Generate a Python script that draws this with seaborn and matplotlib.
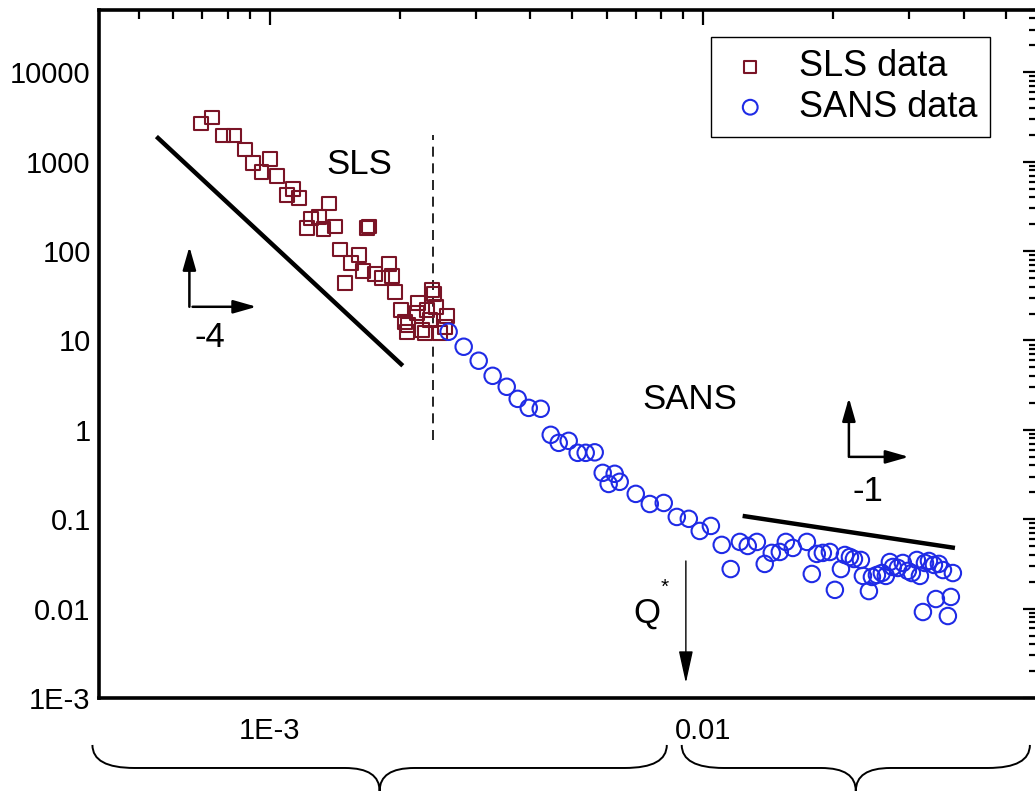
import numpy as np
import pandas as pd
import matplotlib
matplotlib.use("Agg")
import matplotlib.pyplot as plt
import matplotlib.ticker as mticker
from matplotlib.path import Path
from matplotlib.patches import PathPatch
from matplotlib.transforms import blended_transform_factory
import seaborn as sns

# SLS data (Q, intensity)
sls_q = [6.93e-4, 7.38e-4, 7.79e-4, 8.26e-4, 8.76e-4, 9.14e-4, 9.58e-4, 1.00e-3,
         1.04e-3, 1.095e-3, 1.13e-3, 1.167e-3, 1.218e-3, 1.244e-3, 1.298e-3,
         1.332e-3, 1.369e-3, 1.413e-3, 1.451e-3, 1.675e-3, 1.70e-3, 1.606e-3,
         1.539e-3, 1.49e-3, 1.64e-3, 1.748e-3, 1.814e-3, 1.883e-3, 1.913e-3,
         1.944e-3, 2.007e-3, 2.05e-3, 2.083e-3, 2.197e-3, 2.185e-3, 2.28e-3,
         2.305e-3, 2.367e-3, 2.392e-3, 2.417e-3, 2.469e-3, 2.563e-3, 2.536e-3,
         2.342e-3, 2.072e-3, 2.244e-3]
sls_i = [2670, 3120, 1960, 1960, 1370, 977, 775, 1060,
         699, 428, 500, 396, 183, 231, 243,
         178, 340, 188, 104, 183, 188, 91,
         74, 44.3, 60.3, 55.8, 50.4, 72.3, 53,
         35.1, 22.1, 16.2, 15.0, 26.4, 20.4, 12.2,
         22.1, 37.0, 33.3, 23.8, 12.2, 18.9, 14.2,
         17.1, 12.5, 13.2]

# SANS data (Q, intensity)
sans_q = [2.59e-3, 2.806e-3, 3.039e-3, 3.273e-3, 3.527e-3, 3.739e-3, 3.965e-3,
          4.226e-3, 4.457e-3, 4.65e-3, 4.903e-3, 5.143e-3, 5.367e-3, 5.63e-3,
          5.875e-3, 6.261e-3, 6.064e-3, 6.43e-3, 7.003e-3, 7.545e-3, 8.126e-3,
          8.71e-3, 9.284e-3, 9.84e-3, 0.01044, 0.01106, 0.0116, 0.01218,
          0.0127, 0.01333, 0.0139, 0.01443, 0.01506, 0.01555, 0.01614,
          0.01739, 0.01785, 0.01833, 0.01893, 0.01965, 0.02018, 0.02084,
          0.02128, 0.02186, 0.02233, 0.02317, 0.02342, 0.02418, 0.02457,
          0.02523, 0.0259, 0.02646, 0.02703, 0.02746, 0.0282, 0.02896,
          0.02974, 0.03038, 0.0312, 0.03171, 0.03257, 0.03327, 0.03416,
          0.03508, 0.03584, 0.03778, 0.03222, 0.03452, 0.03738, 0.03679]
sans_i = [12.5, 8.50, 5.93, 4.02, 3.03, 2.22, 1.76,
          1.72, 0.879, 0.715, 0.753, 0.553, 0.553, 0.56,
          0.330, 0.322, 0.248, 0.262, 0.192, 0.148, 0.152,
          0.106, 0.101, 0.0739, 0.0841, 0.0516, 0.0277, 0.0557,
          0.0502, 0.0557, 0.0316, 0.0420, 0.0430, 0.0557, 0.0477,
          0.0557, 0.0244, 0.0409, 0.0420, 0.0430, 0.0162, 0.0277,
          0.0398, 0.0378, 0.0359, 0.0350, 0.0232, 0.0157, 0.0226,
          0.0238, 0.0250, 0.0232, 0.0332, 0.0292, 0.0285, 0.0324,
          0.0264, 0.0250, 0.0350, 0.0232, 0.0324, 0.0341, 0.0308,
          0.0316, 0.0270, 0.0250, 0.00916, 0.0128, 0.0135, 0.00826]

# guide lines for the power laws
slope4_q = [5.48e-4, 2.03e-3]
slope4_i = [1910, 5.21]
slope1_q = [0.01236, 0.0382]
slope1_i = [0.1089, 0.0477]

# SLS/SANS boundary and Q*
boundary_q = 2.378e-3
boundary_i = [0.773, 2010]
qstar = 9.14e-3

# brace spans under the axis
brace_spans = [(3.9e-4, 8.26e-3), (8.94e-3, 0.0569)]

x_ticks = [1e-3, 1e-2]
x_labels = ["1E-3", "0.01"]
y_ticks = [1e-3, 1e-2, 0.1, 1, 10, 100, 1000, 10000]
y_labels = ["1E-3", "0.01", "0.1", "1", "10", "100", "1000", "10000"]

SLS_COLOR = "#7a1426"
SANS_COLOR = "#1f2be6"

sls = pd.DataFrame({"q": sls_q, "intensity": sls_i})
sans = pd.DataFrame({"q": sans_q, "intensity": sans_i})

sns.set_theme(style="white")
plt.rcParams["font.family"] = ["Liberation Sans", "DejaVu Sans"]
plt.rcParams["text.color"] = "black"
plt.rcParams["axes.labelcolor"] = "black"

fig = plt.figure(figsize=(10.35, 7.91), dpi=100)
# right spine sits just past the image edge, as in the original
ax = fig.add_axes([0.0957, 0.1176, 0.9072, 0.870])

sns.scatterplot(data=sls, x="q", y="intensity", marker="s", s=100,
                facecolor="none", edgecolor=SLS_COLOR, linewidth=1.5,
                label="SLS data", ax=ax, zorder=3)
sns.scatterplot(data=sans, x="q", y="intensity", marker="o", s=140,
                facecolor="none", edgecolor=SANS_COLOR, linewidth=1.5,
                label="SANS data", ax=ax, zorder=3)

ax.set_xscale("log")
ax.set_yscale("log")
ax.set_xlim(4.04e-4, 0.0594)
ax.set_ylim(1e-3, 5e4)

# power-law guides
ax.plot(slope4_q, slope4_i, color="black", lw=3.2, solid_capstyle="butt")
ax.plot(slope1_q, slope1_i, color="black", lw=3.2, solid_capstyle="butt")
ax.plot([boundary_q, boundary_q], boundary_i, color="black", lw=1.2,
        linestyle=(0, (6, 4)))

arrow_kw = dict(arrowstyle="-|>,head_length=0.7,head_width=0.2",
                color="black", lw=1.8, shrinkA=0, shrinkB=0,
                mutation_scale=20)
# -4 axes glyph
ax.annotate("", xy=(6.53e-4, 112), xytext=(6.53e-4, 23.8), arrowprops=arrow_kw)
ax.annotate("", xy=(9.33e-4, 23.8), xytext=(6.64e-4, 23.8), arrowprops=arrow_kw)
# -1 axes glyph
ax.annotate("", xy=(0.02174, 2.28), xytext=(0.02174, 0.498), arrowprops=arrow_kw)
ax.annotate("", xy=(0.0299, 0.498), xytext=(0.0219, 0.498), arrowprops=arrow_kw)
# Q* arrow
ax.annotate("", xy=(qstar, 1.47e-3), xytext=(qstar, 0.0341),
            arrowprops=dict(arrowstyle="-|>,head_length=1.0,head_width=0.22",
                            color="black", lw=1.0, shrinkA=0, shrinkB=0,
                            mutation_scale=20))

ax.text(1.61e-3, 928, "SLS", fontsize=25, ha="center", va="center")
ax.text(9.33e-3, 2.17, "SANS", fontsize=25, ha="center", va="center")
ax.text(7.27e-4, 10.7, "-4", fontsize=25, ha="center", va="center")
ax.text(0.0240, 0.202, "-1", fontsize=25, ha="center", va="center")
ax.text(7.43e-3, 8.93e-3, "Q", fontsize=25, ha="center", va="center")
ax.text(8.17e-3, 0.0172, "*", fontsize=15, ha="center", va="center")

# axes styling
ax.xaxis.set_major_locator(mticker.FixedLocator(x_ticks))
ax.xaxis.set_major_formatter(mticker.FixedFormatter(x_labels))
ax.yaxis.set_major_locator(mticker.FixedLocator(y_ticks))
ax.yaxis.set_major_formatter(mticker.FixedFormatter(y_labels))
for axis in (ax.xaxis, ax.yaxis):
    axis.set_minor_locator(mticker.LogLocator(base=10, subs=np.arange(2, 10), numticks=20))
    axis.set_minor_formatter(mticker.NullFormatter())
ax.tick_params(which="both", direction="in", top=True, right=True,
               colors="black", labelsize=21)
ax.tick_params(which="major", length=11, width=1.6)
ax.tick_params(which="minor", length=6.5, width=1.6)
ax.tick_params(axis="x", pad=14)
ax.tick_params(axis="y", pad=6)
for sp in ax.spines.values():
    sp.set_linewidth(2.6)
    sp.set_color("black")
ax.set_xlabel("")
ax.set_ylabel("")
ax.grid(False)

leg = ax.legend(loc="upper right", bbox_to_anchor=(0.949, 0.961),
                borderaxespad=0, fontsize=26, frameon=True, fancybox=False,
                edgecolor="black", framealpha=1, handlelength=1.5,
                handletextpad=0.6, labelspacing=0.15, borderpad=0.35,
                markerscale=0.9)
leg.get_frame().set_linewidth(1.0)
for t in leg.get_texts():
    t.set_color("black")

# curly braces below the axis
trans = blended_transform_factory(ax.transData, fig.transFigure)
top, mid, bot = 0.0582, 0.0291, 0.0
for q0, q1 in brace_spans:
    l0, l1 = np.log10(q0), np.log10(q1)
    lm = (l0 + l1) / 2
    e, c = 0.097, 0.08
    pts = [(l0, top), (l0, mid), (l0 + e, mid), (lm - c, mid), (lm, mid),
           (lm, bot), (lm, mid), (lm + c, mid), (l1 - e, mid), (l1, mid),
           (l1, top)]
    verts = [(10 ** lx, y) for lx, y in pts]
    codes = [Path.MOVETO, Path.CURVE3, Path.CURVE3, Path.LINETO, Path.CURVE3,
             Path.CURVE3, Path.CURVE3, Path.CURVE3, Path.LINETO, Path.CURVE3,
             Path.CURVE3]
    fig.add_artist(PathPatch(Path(verts, codes), transform=trans,
                             facecolor="none", edgecolor="black", lw=1.4,
                             clip_on=False))

fig.savefig("out.png", dpi=100)
